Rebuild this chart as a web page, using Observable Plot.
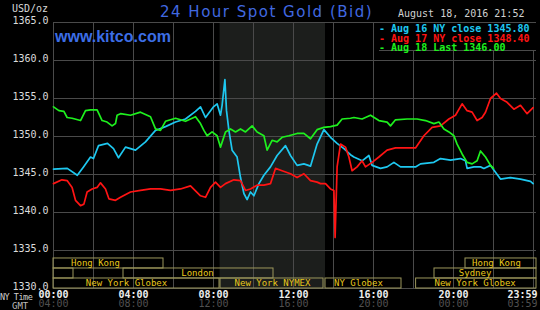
<!DOCTYPE html>
<html><head><meta charset="utf-8">
<script src="https://cdn.jsdelivr.net/npm/d3@7"></script>
<script src="https://cdn.jsdelivr.net/npm/@observablehq/plot@0.6"></script>
<style>
body{margin:0;background:#000;}
#wrap{position:relative;width:540px;height:310px;overflow:hidden;background:#000;}
.ov{position:absolute;white-space:pre;font-family:"DejaVu Sans Mono",monospace;font-size:10px;line-height:12px;color:#d8d8d8;}
#title{font-family:"DejaVu Sans",sans-serif;font-size:15px;line-height:18px;letter-spacing:1.5px;color:#4169e1;}
#kitco{font-family:"Liberation Sans",Arial,sans-serif;font-weight:bold;font-size:16px;line-height:18px;color:#3c6ee6;}
#legend{background:#000;border-bottom:1px solid #4a4a4a;line-height:9.5px;padding-top:1px;box-sizing:border-box;}
</style></head><body><div id="wrap"></div>
<script>
// ---- data ----
const titleText = "24 Hour Spot Gold (Bid)";
const siteText = "www.kitco.com";
const dateText = "August 18, 2016 21:52";
const unitText = "USD/oz";
const seriesNames = ["Aug 16 NY close 1345.80", "Aug 17 NY close 1348.40", "Aug 18 Last 1346.00"];

const cyanHour = [0,0.69,1.19,1.5,1.85,2.0,2.25,2.7,3.0,3.25,3.6,4.1,4.6,5.1,5.6,6.1,6.6,7.1,7.35,7.6,8.0,8.18,8.35,8.43,8.57,8.65,8.77,8.93,9.18,9.35,9.52,9.68,9.85,10.02,10.27,10.52,10.85,11.18,11.6,11.85,12.18,12.52,12.85,13.18,13.52,13.85,14.18,14.52,14.85,15.02,15.43,15.77,15.93,16.35,16.68,17.02,17.35,18.1,18.35,19.02,19.35,19.85,20.35,20.6,20.68,21.02,21.35,21.52,21.85,22.1,22.35,22.85,23.35,23.85,23.98];
const cyanPrice = [1345.7,1345.8,1344.9,1346.0,1347.3,1347.1,1348.8,1349.1,1348.4,1347.2,1348.6,1348.2,1349.3,1350.8,1351.3,1351.9,1352.3,1353.3,1353.9,1352.5,1353.9,1354.3,1352.8,1354.1,1357.5,1353.4,1350.8,1348.2,1347.3,1344.6,1342.5,1341.7,1342.7,1342.2,1343.8,1344.9,1346.0,1347.5,1348.8,1347.5,1346.2,1346.4,1346.1,1349.0,1350.9,1349.9,1349.1,1348.4,1347.6,1347.3,1346.8,1347.5,1346.2,1345.8,1346.0,1346.6,1346.0,1346.0,1346.4,1346.6,1347.1,1346.9,1347.1,1346.8,1345.8,1346.0,1346.0,1345.8,1346.2,1345.3,1344.4,1344.6,1344.4,1344.1,1343.8];

const redHour = [0,0.42,0.68,0.93,1.1,1.35,1.52,1.68,1.93,2.18,2.35,2.6,2.77,3.1,3.35,3.85,4.35,4.85,5.35,5.85,6.35,6.85,7.35,7.6,7.85,8.1,8.35,8.6,9.02,9.35,9.6,9.85,10.18,10.52,10.85,11.1,11.43,11.85,12.18,12.52,12.85,13.18,13.35,13.6,13.85,14.02,14.08,14.18,14.35,14.6,14.77,14.93,15.18,15.43,15.6,15.93,16.27,16.68,17.1,18.1,18.52,18.93,19.35,19.77,20.1,20.43,20.68,20.93,21.18,21.43,21.6,21.85,22.15,22.35,22.68,23.02,23.35,23.68,23.98];
const redPrice = [1343.8,1344.3,1344.2,1343.3,1341.6,1340.9,1341.1,1342.7,1343.1,1343.3,1343.9,1343.1,1341.8,1341.6,1342.0,1342.7,1342.9,1343.1,1343.1,1342.9,1343.1,1343.5,1342.2,1342.0,1343.3,1344.0,1343.3,1343.8,1344.3,1344.2,1342.9,1343.1,1343.6,1343.6,1343.8,1345.8,1345.5,1345.1,1344.6,1345.1,1344.2,1344.0,1343.8,1343.8,1343.1,1342.9,1336.7,1346.0,1349.0,1348.6,1347.3,1345.5,1346.0,1346.8,1346.0,1346.6,1347.3,1348.2,1348.5,1348.5,1350.1,1351.2,1351.4,1352.3,1352.8,1354.3,1353.4,1353.2,1352.1,1352.5,1353.2,1355.0,1355.7,1355.0,1354.5,1353.6,1354.1,1353.0,1353.8];

const greenHour = [0,0.27,0.52,0.68,0.93,1.35,1.6,1.85,2.18,2.43,2.68,2.93,3.1,3.18,3.35,3.85,4.35,4.85,5.1,5.35,5.6,6.1,6.6,7.1,7.35,7.52,7.68,7.93,8.18,8.35,8.6,8.85,9.1,9.35,9.6,9.93,10.18,10.52,10.68,10.93,11.18,11.43,11.77,12.18,12.52,12.85,13.18,13.52,13.85,14.18,14.43,14.85,15.02,15.43,15.85,16.27,16.68,16.85,17.1,17.68,18.18,18.6,19.02,19.27,19.52,19.77,20.02,20.18,20.43,20.68,20.93,21.18,21.35,21.6,21.85,22.0];
const greenPrice = [1353.9,1353.4,1353.3,1352.5,1352.4,1352.1,1353.4,1353.5,1353.5,1352.1,1351.9,1351.4,1351.7,1352.8,1353.0,1352.8,1353.2,1352.6,1351.0,1350.8,1352.0,1352.4,1352.0,1352.6,1351.7,1350.8,1350.1,1350.6,1350.1,1348.6,1350.6,1351.0,1350.6,1351.0,1350.6,1351.4,1350.6,1350.1,1348.2,1349.5,1349.3,1349.9,1350.1,1350.4,1350.4,1349.7,1350.9,1351.2,1351.3,1351.5,1352.3,1352.4,1352.5,1352.3,1352.8,1352.1,1351.9,1351.4,1352.2,1352.3,1352.3,1352.1,1351.7,1351.9,1351.0,1350.6,1350.1,1349.0,1347.7,1346.6,1346.4,1346.8,1348.1,1347.3,1346.2,1345.8];

const priceTicks = [1330,1335,1340,1345,1350,1355,1360,1365];
const gridHours = [0,2,4,6,8,10,12,14,16,18,20,22,24];
const labelHours = [0,4,8,12,16,20,24];
const nyTimeLabels = ["00:00","04:00","08:00","12:00","16:00","20:00","23:59"];
const gmtTimeLabels = ["04:00","08:00","12:00","16:00","20:00","00:00","03:59"];

const nymexStart = [8.33];
const nymexEnd = [13.6];

const sessionNames = ["Hong Kong","","London","New York Globex","New York NYMEX","NY Globex","New York Globex","Sydney","Hong Kong"];
const sessionRow   = [0,1,1,2,2,2,2,1,0];
const sessionStart = [0,0,3.5,0,8.35,13.6,18.13,19.05,20.6];
const sessionEnd   = [5.5,1,11,8.3,13.5,17.4,24.15,24.15,24.15];
const sessionLabelAt = [2.1,0.5,7.2,3.65,10.95,15.25,21.08,21.08,22.15];

// ---- styles ----
const seriesColors = ["#1ec8f0","#ff1414","#1ef01e"];
const gridColor = "#4a4a4a";

// ---- build ----
const rows = [];
[[cyanHour,cyanPrice],[redHour,redPrice],[greenHour,greenPrice]].forEach(([hs,ps],k)=>{
  hs.forEach((h,i)=>rows.push({series:seriesNames[k], hour:h, price:ps[i]}));
});
const rowSpan = 3.95/3;
const sessions = sessionNames.map((name,i)=>({
  name, start:sessionStart[i], end:sessionEnd[i], at:sessionLabelAt[i],
  top:1330 + (3-sessionRow[i])*rowSpan, bottom:1330 + (2-sessionRow[i])*rowSpan,
  mid:1330 + (2.5-sessionRow[i])*rowSpan
}));
const shade = nymexStart.map((s,i)=>({x1:s,x2:nymexEnd[i]}));
const xLabels = labelHours.map((h,i)=>({h, ny:nyTimeLabels[i], gmt:gmtTimeLabels[i]}));
const mono = "DejaVu Sans Mono";

const chart = Plot.plot({
  width:540, height:310,
  marginLeft:53, marginRight:4, marginTop:22, marginBottom:22,
  style:{background:"#000", color:"#d8d8d8", fontFamily:mono, fontSize:"10px", overflow:"visible"},
  x:{domain:[0,24.15], axis:null},
  y:{domain:[1330,1365], axis:null},
  color:{domain:seriesNames, range:seriesColors},
  marks:[
    Plot.rect(shade, {x1:"x1", x2:"x2", fill:"#1c1e1c"}),
    Plot.ruleY(priceTicks, {stroke:gridColor, strokeWidth:1}),
    Plot.ruleX(gridHours, {stroke:gridColor, strokeWidth:1}),
    Plot.rect(sessions, {x1:"start", x2:"end", y1:"bottom", y2:"top", stroke:"#9c975c", fill:"none", strokeWidth:1}),
    Plot.text(sessions, {x:"at", y:"mid", text:"name", fill:"#e8c81c", fontSize:9, fontFamily:mono}),
    Plot.line(rows, {x:"hour", y:"price", z:"series", stroke:"series", strokeWidth:1.7, curve:"linear"}),
    Plot.axisY({ticks:priceTicks, tickSize:0, tickPadding:5, dy:-2, tickFormat:d=>d.toFixed(1), label:null, fill:"#dcdcdc", fontSize:10, fontFamily:mono}),
    Plot.text(xLabels.slice(0,-1), {x:"h", text:"ny", frameAnchor:"bottom", dy:9, fill:"#eeeeee", fontSize:10, fontWeight:"bold", fontFamily:mono}),
    Plot.text(xLabels.slice(-1), {x:"h", text:"ny", frameAnchor:"bottom", dy:9, dx:4, textAnchor:"end", fill:"#eeeeee", fontSize:10, fontWeight:"bold", fontFamily:mono}),
    Plot.text(xLabels.slice(0,-1), {x:"h", text:"gmt", frameAnchor:"bottom", dy:18.5, fill:"#505050", fontSize:10, fontFamily:mono}),
    Plot.text(xLabels.slice(-1), {x:"h", text:"gmt", frameAnchor:"bottom", dy:18.5, dx:4, textAnchor:"end", fill:"#505050", fontSize:10, fontFamily:mono})
  ]
});
const wrap = document.getElementById("wrap");
chart.style.position = "absolute"; chart.style.left = "0"; chart.style.top = "0";
wrap.appendChild(chart);

function ov(id, text, css){
  const d = document.createElement("div");
  d.className = "ov"; if (id) d.id = id;
  d.textContent = text;
  Object.assign(d.style, css);
  wrap.appendChild(d);
  return d;
}
ov("title", titleText, {left:"160px", top:"3px"});
ov("kitco", siteText, {left:"55px", top:"28px"});
ov(null, unitText, {left:"12px", top:"3px"});
ov(null, dateText, {left:"398px", top:"8px", color:"#d0d0d0"});
ov(null, "NY Time", {left:"0px", top:"293px", fontSize:"8.5px", lineHeight:"9px", letterSpacing:"-0.5px", color:"#cfcfcf"});
ov(null, "GMT", {left:"12px", top:"302px", fontSize:"9px", lineHeight:"8px", color:"#bcbcbc"});
const leg = ov("legend", "", {left:"379px", top:"23px", width:"157px", height:"28px"});
seriesNames.forEach((n,i)=>{
  const line = document.createElement("div");
  line.textContent = "- " + n;
  line.style.color = seriesColors[i];
  line.style.fontWeight = "bold";
  line.style.height = "9.5px";
  leg.appendChild(line);
});
</script>
</body></html>
